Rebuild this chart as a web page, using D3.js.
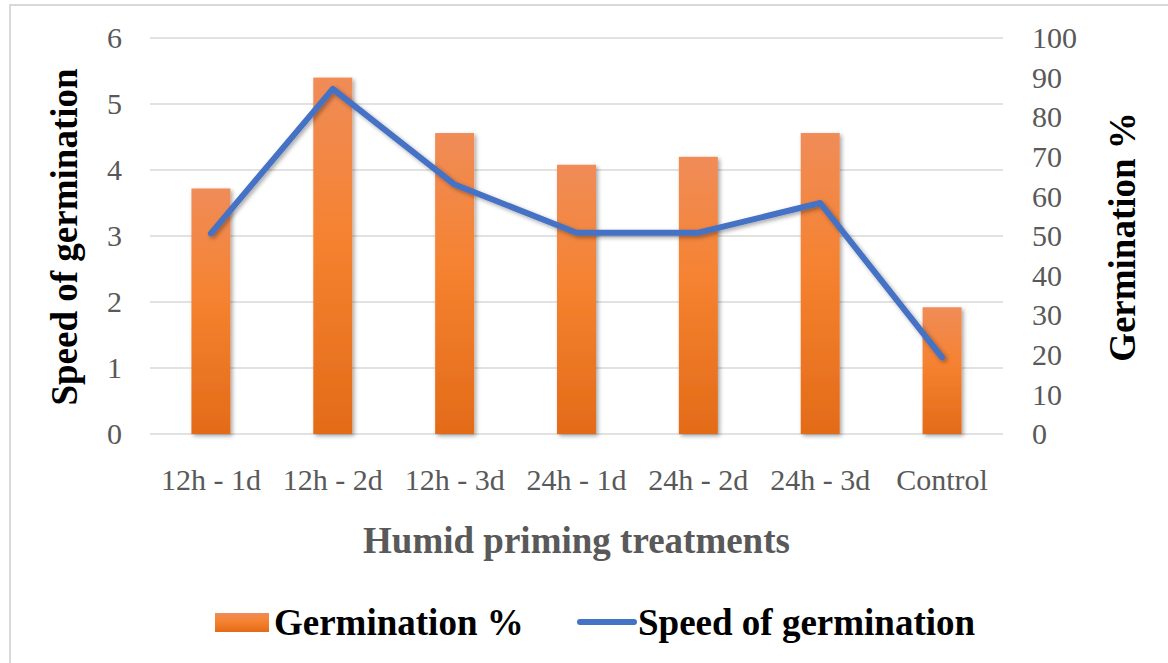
<!DOCTYPE html>
<html>
<head>
<meta charset="utf-8">
<script src="https://cdn.jsdelivr.net/npm/d3@7"></script>
<style>
  html, body { margin: 0; padding: 0; background: #fff; }
  svg { display: block; }
  text { font-family: "Liberation Serif", "Times New Roman", serif; }
</style>
</head>
<body>
<div id="chart"></div>
<script>
const categories = ["12h - 1d", "12h - 2d", "12h - 3d", "24h - 1d", "24h - 2d", "24h - 3d", "Control"];
const germination = [62, 90, 76, 68, 70, 76, 32];
const speed = [3.04, 5.23, 3.78, 3.05, 3.05, 3.5, 1.16];
const leftTicks = [0, 1, 2, 3, 4, 5, 6];
const rightTicks = [0, 10, 20, 30, 40, 50, 60, 70, 80, 90, 100];

const W = 1168, H = 663;
const plot = {left: 150, right: 1003, top: 38, bottom: 434};

const svg = d3.select("#chart").append("svg")
    .attr("width", W)
    .attr("height", H);

const defs = svg.append("defs");
const grad = defs.append("linearGradient")
    .attr("id", "barGrad")
    .attr("x1", 0).attr("y1", 0).attr("x2", 0).attr("y2", 1);
grad.append("stop").attr("offset", "0%").attr("stop-color", "#F08C58");
grad.append("stop").attr("offset", "45%").attr("stop-color", "#F58230");
grad.append("stop").attr("offset", "100%").attr("stop-color", "#E36B18");

const shadow = defs.append("filter").attr("id", "shadow")
    .attr("x", "-20%").attr("y", "-20%").attr("width", "150%").attr("height", "150%");
shadow.append("feDropShadow")
    .attr("dx", 2).attr("dy", 2).attr("stdDeviation", 2)
    .attr("flood-color", "#000").attr("flood-opacity", 0.35);

// chart border (clipped at right and bottom like the source)
svg.append("rect")
    .attr("x", 10).attr("y", 5)
    .attr("width", 1200).attr("height", 700)
    .attr("fill", "none")
    .attr("stroke", "#d9d9d9")
    .attr("stroke-width", 2);

let x = d3.scaleBand()
    .domain(categories)
    .range([plot.left, plot.right])
    .paddingInner(0.68)
    .paddingOuter(0.34);

let yLeft = d3.scaleLinear().domain([0, 6]).range([plot.bottom, plot.top]);
let yRight = d3.scaleLinear().domain([0, 100]).range([plot.bottom, plot.top]);

// gridlines
svg.append("g").selectAll("line")
    .data(leftTicks)
    .enter()
    .append("line")
    .attr("x1", plot.left).attr("x2", plot.right)
    .attr("y1", d => yLeft(d)).attr("y2", d => yLeft(d))
    .attr("stroke", "#d9d9d9")
    .attr("stroke-width", 1.5);

// left axis
let leftAxis = svg.append("g")
    .attr("transform", "translate(" + plot.left + ",0)")
    .call(d3.axisLeft(yLeft).tickValues(leftTicks).tickFormat(d3.format("d")).tickSize(0).tickPadding(28));
leftAxis.select(".domain").remove();
leftAxis.selectAll("text")
    .style("font-family", "'Liberation Serif', 'Times New Roman', serif")
    .style("font-size", "30px")
    .attr("fill", "#595959");

// right axis
let rightAxis = svg.append("g")
    .attr("transform", "translate(" + plot.right + ",0)")
    .call(d3.axisRight(yRight).tickValues(rightTicks).tickFormat(d3.format("d")).tickSize(0).tickPadding(29));
rightAxis.select(".domain").remove();
rightAxis.selectAll("text")
    .style("font-family", "'Liberation Serif', 'Times New Roman', serif")
    .style("font-size", "30px")
    .attr("fill", "#595959");

// x axis labels
let xAxis = svg.append("g")
    .attr("transform", "translate(0," + plot.bottom + ")")
    .call(d3.axisBottom(x).tickSize(0));
xAxis.select(".domain").remove();
xAxis.selectAll("text")
    .attr("y", 56)
    .attr("dy", 0)
    .style("font-family", "'Liberation Serif', 'Times New Roman', serif")
    .style("font-size", "30px")
    .attr("fill", "#595959");

// bars
svg.append("g").selectAll("rect")
    .data(germination)
    .enter()
    .append("rect")
    .attr("x", (d, i) => x(categories[i]))
    .attr("y", d => yRight(d))
    .attr("width", x.bandwidth())
    .attr("height", d => plot.bottom - yRight(d))
    .attr("fill", "url(#barGrad)")
    .attr("filter", "url(#shadow)");

// line
let line = d3.line()
    .x((d, i) => x(categories[i]) + x.bandwidth() / 2)
    .y(d => yLeft(d));

svg.append("path")
    .datum(speed)
    .attr("d", line)
    .attr("fill", "none")
    .attr("stroke", "#4472C4")
    .attr("stroke-width", 6)
    .attr("stroke-linejoin", "round")
    .attr("stroke-linecap", "round")
    .attr("filter", "url(#shadow)");

// axis titles
svg.append("text")
    .attr("transform", "translate(77,237) rotate(-90)")
    .attr("text-anchor", "middle")
    .style("font-size", "37px")
    .style("font-weight", "bold")
    .attr("fill", "#000")
    .text("Speed of germination");

svg.append("text")
    .attr("transform", "translate(1135,237) rotate(-90)")
    .attr("text-anchor", "middle")
    .style("font-size", "37px")
    .style("font-weight", "bold")
    .attr("fill", "#000")
    .text("Germination %");

svg.append("text")
    .attr("x", (plot.left + plot.right) / 2)
    .attr("y", 553)
    .attr("text-anchor", "middle")
    .style("font-size", "37px")
    .style("font-weight", "bold")
    .attr("fill", "#595959")
    .text("Humid priming treatments");

// legend
let legend = svg.append("g");
legend.append("rect")
    .attr("x", 215).attr("y", 613)
    .attr("width", 54).attr("height", 19)
    .attr("fill", "url(#barGrad)");
legend.append("text")
    .attr("x", 274).attr("y", 635)
    .style("font-size", "37px")
    .style("font-weight", "bold")
    .attr("fill", "#000")
    .text("Germination %");
legend.append("line")
    .attr("x1", 580).attr("x2", 634)
    .attr("y1", 622).attr("y2", 622)
    .attr("stroke", "#4472C4")
    .attr("stroke-width", 6)
    .attr("stroke-linecap", "round");
legend.append("text")
    .attr("x", 638).attr("y", 635)
    .style("font-size", "37px")
    .style("font-weight", "bold")
    .attr("fill", "#000")
    .text("Speed of germination");
</script>
</body>
</html>
